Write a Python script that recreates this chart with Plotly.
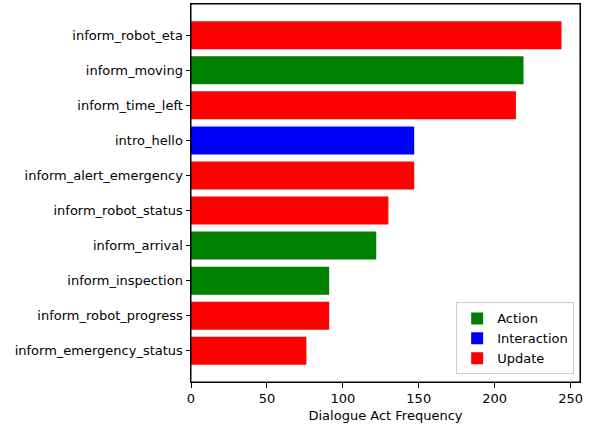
import plotly.graph_objects as go

acts = ["inform_robot_eta", "inform_moving", "inform_time_left", "intro_hello",
        "inform_alert_emergency", "inform_robot_status", "inform_arrival",
        "inform_inspection", "inform_robot_progress", "inform_emergency_status"]
freqs = [244, 219, 214, 147, 147, 130, 122, 91, 91, 76]
groups = ["Update", "Action", "Update", "Interaction", "Update", "Update",
          "Action", "Action", "Update", "Update"]
group_order = ["Action", "Interaction", "Update"]
group_colors = {"Action": "green", "Interaction": "blue", "Update": "red"}
x_ticks = [0, 50, 100, 150, 200, 250]

fig = go.Figure()
for g in group_order:
    ys = [a for a, gg in zip(acts, groups) if gg == g]
    xs = [f for f, gg in zip(freqs, groups) if gg == g]
    fig.add_trace(go.Bar(x=xs, y=ys, orientation="h", name=g,
                         marker=dict(color=group_colors[g], line=dict(width=0))))

font = dict(family="DejaVu Sans", size=13, color="black")
fig.update_layout(
    width=589, height=426,
    margin=dict(l=191, r=9, t=4, b=44),
    plot_bgcolor="white", paper_bgcolor="white",
    barmode="overlay", bargap=0.2,
    font=font,
    showlegend=True,
    legend=dict(x=0.985, y=0.02, xanchor="right", yanchor="bottom",
                bordercolor="#cccccc", borderwidth=1, bgcolor="rgba(255,255,255,0.8)",
                font=dict(family="DejaVu Sans", size=13, color="black"),
                tracegroupgap=0, itemwidth=30),
    shapes=[dict(type="rect", xref="paper", yref="paper", x0=0, x1=1, y0=0, y1=1,
                 line=dict(color="black", width=1), fillcolor="rgba(0,0,0,0)",
                 layer="above")],
)
fig.update_xaxes(range=[0, 256.2], tickvals=x_ticks, ticks="outside", ticklen=4.5,
                 tickcolor="black", showline=True, linecolor="black", linewidth=1,
                 mirror=True, showgrid=False, zeroline=False,
                 title=dict(text="Dialogue Act Frequency", font=font, standoff=5))
fig.update_yaxes(type="category", categoryorder="array", categoryarray=acts,
                 range=[9.89, -0.89], ticks="outside", ticklen=4.5, tickcolor="black",
                 showline=True, linecolor="black", linewidth=1, mirror=True,
                 showgrid=False, zeroline=False)
fig.write_html("out.html", config={"displayModeBar": False},
               post_script="document.body.style.margin='0';")
